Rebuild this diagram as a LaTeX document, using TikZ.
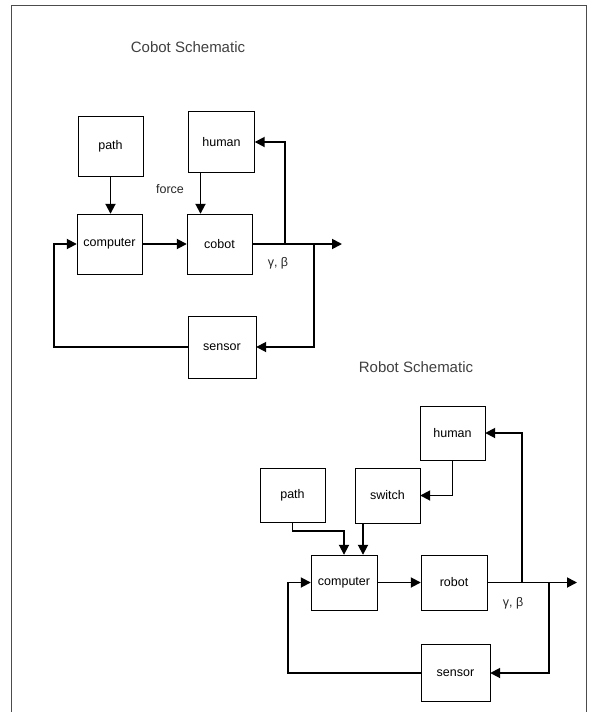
\documentclass[tikz,border=0pt]{standalone}
\usepackage{fontspec}
\setmainfont{Liberation Sans}
\usetikzlibrary{arrows.meta}

\begin{document}
\begin{tikzpicture}[x=1pt,y=-1pt,
  blk/.style={draw,thin,minimum width=65pt,minimum height=60pt,inner sep=0pt,font=\fontsize{12.5}{14}\selectfont},
  conn/.style={line width=1.8pt,-{Triangle[length=10pt,width=10pt]}},
  wire/.style={line width=1.8pt},
  lbl/.style={font=\fontsize{12.5}{14}\selectfont,text=black!85},
  ttl/.style={font=\fontsize{15}{17}\selectfont,text=black!75}]
\useasboundingbox (0,0) rectangle (589,712);
\draw[black!70,line width=0.8pt] (11,712)--(11,5)--(586,5)--(586,712);
% cobot schematic
\node[ttl] (t1) at (188,47) {Cobot Schematic};
\node[blk] (path1) at (110.5,146) {path};
\node[blk,minimum width=66pt,minimum height=61pt] (human1) at (221.5,142) {human};
\node[blk] (comp1) at (109.5,244) {computer};
\node[blk] (cobot) at (219.5,244) {cobot};
\node[blk,minimum width=68pt,minimum height=62pt] (sens1) at (222,347) {sensor};
\coordinate (out1) at (342,244);
\coordinate (up1) at (285,244);
\coordinate (fb1) at (314,244);
\coordinate (ret1) at (54,300);
\draw[conn] (path1.south) -- (path1.south |- comp1.north);
\draw[conn] ([xshift=-21]human1.south) -- ([xshift=-21]human1.south |- cobot.north);
\draw[conn] (comp1.east) -- (cobot.west);
\draw[conn] (cobot.east) -- (out1);
\draw[conn] (up1) |- (human1.east);
\draw[conn] (fb1) |- (sens1.east);
\draw[wire] (sens1.west) -| (ret1);
\draw[conn] (ret1) |- (comp1.west);
\node[lbl] (force) at (170,189) {force};
\node[lbl] (yb1) at (278,263) {γ, β};
% robot schematic
\node[ttl] (t2) at (416,367) {Robot Schematic};
\node[blk,minimum height=54pt] (human2) at (452.5,433) {human};
\node[blk,minimum height=54pt] (path2) at (292.5,495) {path};
\node[blk,minimum height=55pt] (switch) at (387.5,495.5) {switch};
\node[blk,minimum width=66pt,minimum height=55pt] (comp2) at (344,582.5) {computer};
\node[blk,minimum width=66pt,minimum height=55pt] (robot) at (454,582.5) {robot};
\node[blk,minimum width=69pt,minimum height=57pt] (sens2) at (455.5,673) {sensor};
\coordinate (out2) at (577,582.5);
\coordinate (up2) at (522,582.5);
\coordinate (fb2) at (549,582.5);
\coordinate (ret2) at (288,620);
\draw[conn] (human2.south) |- (switch.east);
\draw[conn] (path2.south) -- ++(0,9) -| (comp2.north);
\draw[conn] ([xshift=-24.5]switch.south) -- ([xshift=-24.5]switch.south |- comp2.north);
\draw[conn] (comp2.east) -- (robot.west);
\draw[conn] (robot.east) -- (out2);
\draw[conn] (up2) |- (human2.east);
\draw[conn] (fb2) |- (sens2.east);
\draw[wire] (sens2.west) -| (ret2);
\draw[conn] (ret2) |- (comp2.west);
\node[lbl] (yb2) at (513,603) {γ, β};
\end{tikzpicture}
\end{document}
